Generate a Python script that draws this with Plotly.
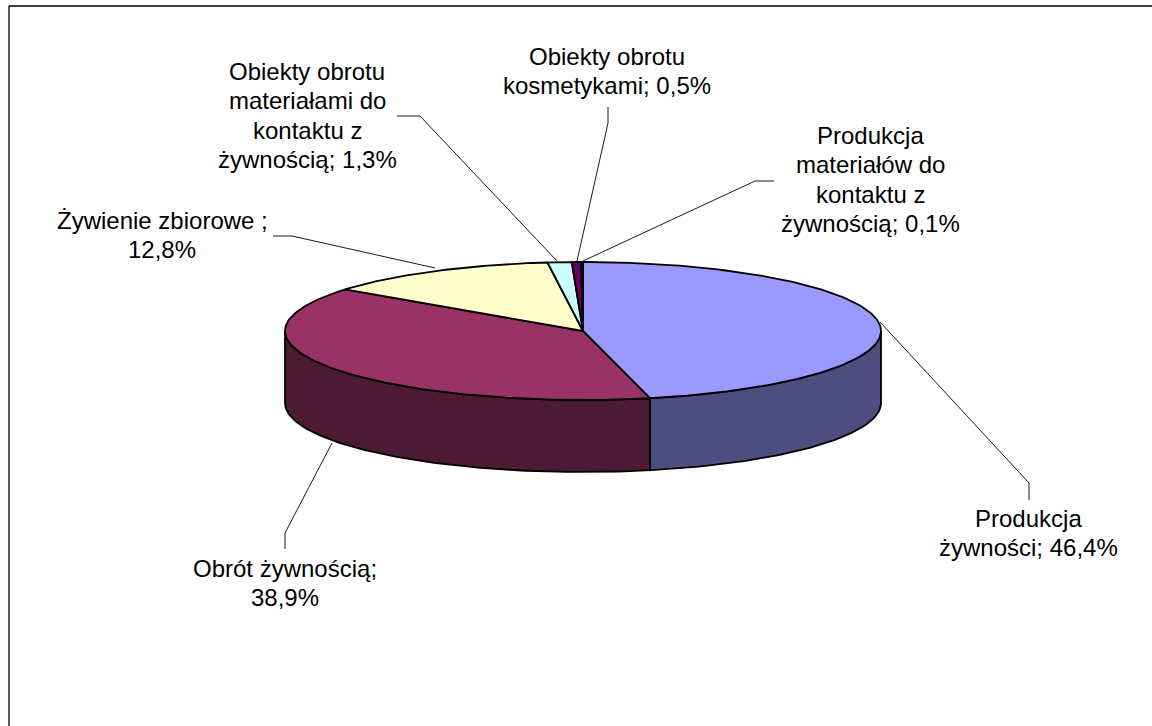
import math
import plotly.graph_objects as go

# Data
categories = ["Produkcja żywności", "Obrót żywnością", "Żywienie zbiorowe",
              "Obiekty obrotu materiałami do kontaktu z żywnością",
              "Obiekty obrotu kosmetykami",
              "Produkcja materiałów do kontaktu z żywnością"]
values = [46.4, 38.9, 12.8, 1.3, 0.5, 0.1]
label_lines = [
    ["Produkcja", "żywności; 46,4%"],
    ["Obrót żywnością;", "38,9%"],
    ["Żywienie zbiorowe ;", "12,8%"],
    ["Obiekty obrotu", "materiałami do", "kontaktu z", "żywnością; 1,3%"],
    ["Obiekty obrotu", "kosmetykami; 0,5%"],
    ["Produkcja", "materiałów do", "kontaktu z", "żywnością; 0,1%"],
]
top_colors = ["#9999FF", "#993366", "#FFFFCC", "#CCFFFF", "#660066", "#FF8080"]
side_colors = ["#4D4D80", "#4D1A33", "#808066", "#668080", "#330033", "#804040"]

# Layout (pixels in the page)
W, H = 1152, 726
CX, CY, RX, RY, DEPTH = 583, 331, 298, 69, 72
LABEL_CENTERS = [(1028, 518), (285, 568), (162, 220), (307, 71), (607, 56), (870, 135)]
LINE_GAP = 29.6
FONT_SIZE = 24
LEADERS = [
    [(880, 322), (1029, 483), (1029, 500)],
    [(332, 443), (285, 533), (285, 549)],
    [(435, 268), (292, 236), (273, 236)],
    [(557, 261), (420, 116), (397, 116)],
    [(577, 261), (608, 123), (608, 107)],
    [(583, 261), (755, 181), (774, 181)],
]


def pt(theta, dy=0):
    return CX + RX * math.sin(theta), CY - RY * math.cos(theta) + dy


def arc(a0, a1, dy=0, step=math.radians(1)):
    n = max(2, int(abs(a1 - a0) / step) + 2)
    return [pt(a0 + (a1 - a0) * i / (n - 1), dy) for i in range(n)]


total = sum(values)
edges = [0.0]
for v in values:
    edges.append(edges[-1] + v / total * 2 * math.pi)

fig = go.Figure()
LINE = dict(color="black", width=1.8)


def poly(points, fill):
    fig.add_trace(go.Scatter(x=[p[0] for p in points], y=[p[1] for p in points],
                             mode="lines", fill="toself", fillcolor=fill, line=LINE,
                             hoverinfo="skip", showlegend=False))


# Visible side wall: the front half of the ellipse
for i in range(len(values)):
    a0, a1 = max(edges[i], math.pi / 2), min(edges[i + 1], 3 * math.pi / 2)
    if a1 > a0:
        poly(arc(a0, a1) + arc(a1, a0, DEPTH) + [pt(a0)], side_colors[i])

# Top face
for i in range(len(values)):
    poly([(CX, CY)] + arc(edges[i], edges[i + 1]) + [(CX, CY)], top_colors[i])

# Leader lines
for path in LEADERS:
    fig.add_trace(go.Scatter(x=[p[0] for p in path], y=[p[1] for p in path], mode="lines",
                             line=dict(color="black", width=0.9), hoverinfo="skip",
                             showlegend=False))

# Labels
for lines, (lx, ly) in zip(label_lines, LABEL_CENTERS):
    for k, text in enumerate(lines):
        fig.add_annotation(x=lx, y=ly + k * LINE_GAP, text=text, showarrow=False,
                           xanchor="center", yanchor="middle",
                           font=dict(family="Liberation Sans", size=FONT_SIZE, color="black"))

# Chart frame: left and top edges only are in view
fig.add_shape(type="line", x0=9, x1=9, y0=6, y1=H, line=dict(color="black", width=1.3))
fig.add_shape(type="line", x0=9, x1=W, y0=6, y1=6, line=dict(color="black", width=1.3))

fig.update_xaxes(range=[0, W], visible=False, fixedrange=True)
fig.update_yaxes(range=[H, 0], visible=False, fixedrange=True)
fig.update_layout(width=W, height=H, margin=dict(l=0, r=0, t=0, b=0),
                  paper_bgcolor="white", plot_bgcolor="white", showlegend=False)
fig.write_html("out.html", config={"displayModeBar": False},
               post_script="document.body.style.margin='0';document.body.style.overflow='hidden';")
